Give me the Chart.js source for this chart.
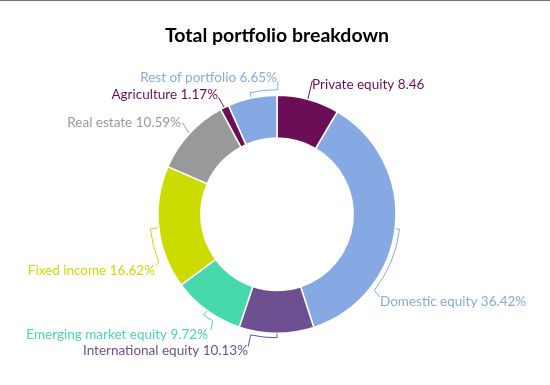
<!DOCTYPE html>
<html><head><meta charset="utf-8">
<script src="https://cdn.jsdelivr.net/npm/chart.js@4/dist/chart.umd.min.js"></script>
<style>
html,body{margin:0;padding:0;background:#fff;}
#wrap{position:relative;width:550px;height:385px;}
#topline{position:absolute;left:0;top:0;width:550px;height:1px;background:#777;}
canvas{display:block;}
</style></head><body>
<div id="wrap"><canvas id="c" width="550" height="385"></canvas><div id="topline"></div></div>
<script>
const chartTitle = 'Total portfolio breakdown';
const categories = ['Private equity','Domestic equity','International equity','Emerging market equity','Fixed income','Real estate','Agriculture','Rest of portfolio'];
const values = [8.46, 36.42, 10.13, 9.72, 16.62, 10.59, 1.17, 6.65];
const valueLabels = ['8.46', '36.42%', '10.13%', '9.72%', '16.62%', '10.59%', '1.17%', '6.65%'];
const sliceColors = ['#6c0e57','#87a9e3','#6d4f92','#47d8ae','#ccdc00','#999999','#6c0e57','#87a9e3'];

// callout styling: path in polar (deg clockwise from top, radius offset from outer edge), text offset from centre
const calloutLayout = [
  {text:[35,-130,'left'],  path:[['M',15,0.5],['L',14.8,19.3]]},
  {text:[103,87,'left'],   path:[['M',97,0.5],['L',97,4.5],['A',128,4.5],['L',128.9,13]]},
  {text:[-29,136,'right'], path:[['M',180,0.5],['L',180,4.5],['A',192.3,4.5],['L',192.3,16.5]]},
  {text:[-69,120,'right'], path:[['M',216,0.5],['L',216,5.5],['A',211,5.5],['L',209.8,14.3]]},
  {text:[-122,56,'right'], path:[['M',263.5,0.5],['L',263.5,8.5],['A',248,8.5],['L',246.8,12.4]]},
  {text:[-96,-92,'right'], path:[['M',312.7,0.5],['L',314.1,13]]},
  {text:[-59,-120,'right'],path:[['M',333.7,0.5],['L',333.4,11.5]]},
  {text:[0,-137,'right'],  path:[['M',347.5,0.5],['L',347.5,5.5],['A',360.3,5.5],['L',360.4,13.7]]}
];

const calloutPlugin = {
  id: 'callouts',
  afterDatasetsDraw(chart) {
    const ctx = chart.ctx;
    const meta = chart.getDatasetMeta(0);
    ctx.save();
    meta.data.forEach((arc, i) => {
      const {x: cx, y: cy, outerRadius: R} = arc.getProps(['x','y','outerRadius'], true);
      const lay = calloutLayout[i];
      const col = sliceColors[i];
      const pt = (deg, dr) => {
        const t = deg * Math.PI / 180, r = R + dr;
        return [cx + r * Math.sin(t), cy - r * Math.cos(t)];
      };
      ctx.strokeStyle = col;
      ctx.lineWidth = 1;
      ctx.beginPath();
      let cur = null;
      lay.path.forEach(c => {
        const [cmd, deg, dr] = c;
        if (cmd === 'M') { const p = pt(deg, dr); ctx.moveTo(p[0], p[1]); }
        else if (cmd === 'L') { const p = pt(deg, dr); ctx.lineTo(p[0], p[1]); }
        else if (cmd === 'A') {
          const a0 = (cur - 90) * Math.PI / 180, a1 = (deg - 90) * Math.PI / 180;
          ctx.arc(cx, cy, R + dr, a0, a1, a1 < a0);
        }
        cur = deg;
      });
      ctx.stroke();
      ctx.fillStyle = col;
      ctx.font = '13.5px Lato';
      ctx.textAlign = lay.text[2];
      ctx.textBaseline = 'middle';
      ctx.fillText(categories[i] + ' ' + valueLabels[i], cx + lay.text[0], cy + lay.text[1]);
    });
    ctx.restore();
  }
};

new Chart(document.getElementById('c'), {
  type: 'doughnut',
  data: {
    labels: categories,
    datasets: [{
      data: values,
      backgroundColor: sliceColors,
      borderColor: '#ffffff',
      borderWidth: 1.5,
      hoverOffset: 0
    }]
  },
  options: {
    responsive: false,
    animation: false,
    cutout: '64%',
    layout: { padding: { left: 157, right: 153, top: 0, bottom: 51 } },
    plugins: {
      legend: { display: false },
      tooltip: { enabled: false },
      title: {
        display: true,
        text: chartTitle,
        color: '#000',
        font: { family: 'Lato', size: 19.5, weight: 'bold' },
        padding: { top: 24, bottom: 47.1 }
      }
    }
  },
  plugins: [calloutPlugin]
});
</script>
</body></html>
